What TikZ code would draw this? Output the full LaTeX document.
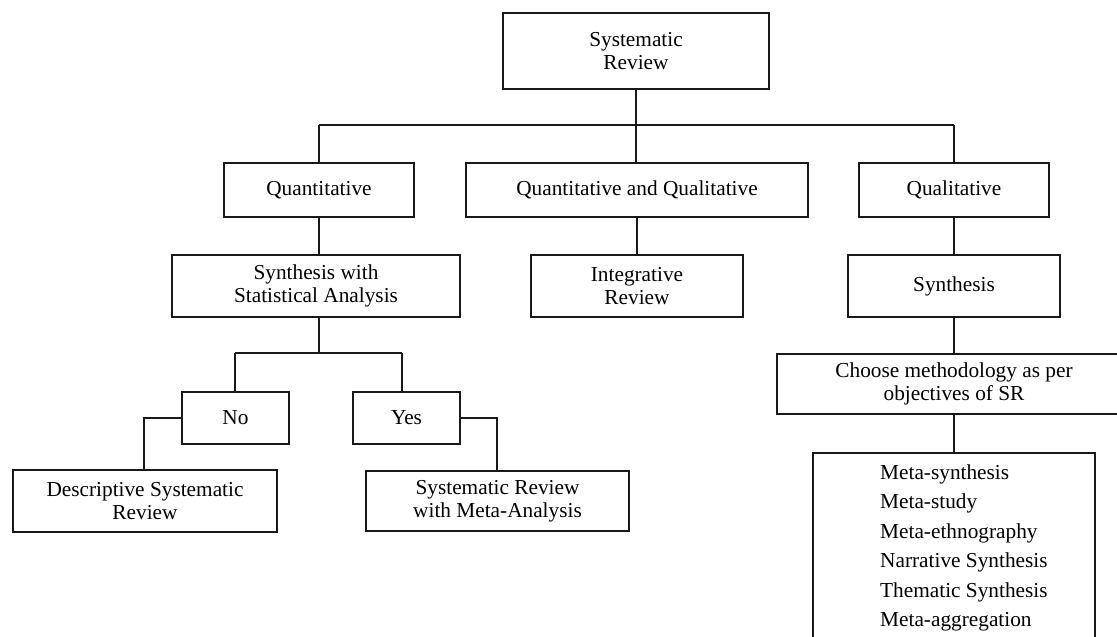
\documentclass[tikz,border=0pt]{standalone}
\usepackage{fontspec}
\setmainfont{Liberation Serif}
\begin{document}
\begin{tikzpicture}[x=1pt,y=-1pt,
  box/.style={draw=black!90, line width=2pt, inner sep=0pt, align=center,
    font=\fontsize{21.3}{23}\selectfont},
  link/.style={draw=black!90, line width=2pt},
  listtext/.style={inner sep=0pt, align=left, anchor=north west,
    font=\fontsize{21.3}{29.4}\selectfont}]
\useasboundingbox (0,0) rectangle (1117,637);
% boxes
\node[box, minimum width=266pt, minimum height=76pt] (sr) at (636,51) {Systematic\\Review};
\node[box, minimum width=190pt, minimum height=54pt] (quant) at (319,190) {Quantitative};
\node[box, minimum width=342pt, minimum height=54pt] (qq) at (637,190) {Quantitative and Qualitative};
\node[box, minimum width=190pt, minimum height=54pt] (qual) at (954,190) {Qualitative};
\node[box, minimum width=288pt, minimum height=62pt] (ssa) at (316,286) {Synthesis with\\Statistical Analysis};
\node[box, minimum width=212pt, minimum height=62pt] (integ) at (637,286) {Integrative\\Review};
\node[box, minimum width=212pt, minimum height=62pt] (synth) at (954,286) {Synthesis};
\node[box, minimum width=354pt, minimum height=60pt] (choose) at (954,384) {Choose methodology as per\\objectives of SR};
\node[box, minimum width=282pt, minimum height=210pt, anchor=north] (meta) at (954,452) {};
\node[listtext] (metalist) at (880,464.5) {Meta-synthesis\\Meta-study\\Meta-ethnography\\Narrative Synthesis\\Thematic Synthesis\\Meta-aggregation};
\node[box, minimum width=107pt, minimum height=52pt] (no) at (235.5,418) {No};
\node[box, minimum width=107pt, minimum height=52pt] (yes) at (406.5,418) {Yes};
\node[box, minimum width=264pt, minimum height=62pt] (desc) at (145,501) {Descriptive Systematic\\Review};
\node[box, minimum width=263pt, minimum height=60pt] (srma) at (497.5,501) {Systematic Review\\with Meta-Analysis};
% bus coordinates
\coordinate (top) at (636,88);
\coordinate (busL) at (319,125);
\coordinate (busM) at (636,125);
\coordinate (busR) at (954,125);
\coordinate (bus2L) at (235,353);
\coordinate (bus2M) at (319,353);
\coordinate (bus2R) at (402,353);
\coordinate (noC) at (144,418);
\coordinate (yesC) at (497,418);
% connectors
\draw[link] (sr.south -| busM) -- (qq.north -| busM);
\draw[link] (busL) -- (busR);
\draw[link] (busL) -- (quant.north -| busL);
\draw[link] (busR) -- (qual.north -| busR);
\draw[link] (quant.south -| busL) -- (ssa.north -| busL);
\draw[link] (qq.south) -- (integ.north);
\draw[link] (qual.south) -- (synth.north);
\draw[link] (synth.south) -- (choose.north);
\draw[link] (choose.south) -- (meta.north);
\draw[link] (ssa.south -| bus2M) -- (bus2M);
\draw[link] (bus2L) -- (bus2R);
\draw[link] (bus2L) -- (no.north -| bus2L);
\draw[link] (bus2R) -- (yes.north -| bus2R);
\draw[link] (no.west) -- (noC) -- (desc.north -| noC);
\draw[link] (yes.east) -- (yesC) -- (srma.north -| yesC);
\end{tikzpicture}
\end{document}
